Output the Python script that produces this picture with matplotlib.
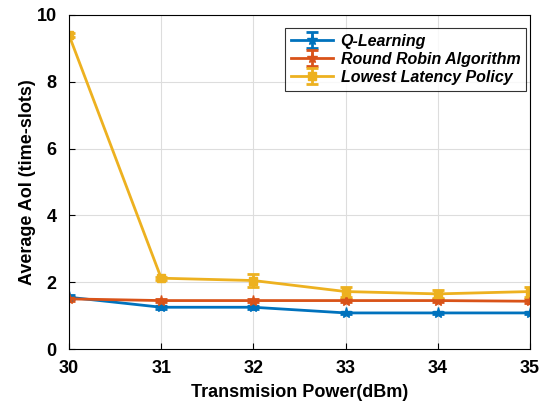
"""Average AoI vs transmission power."""

import matplotlib

matplotlib.use("Agg")
import matplotlib.pyplot as plt

plt.rcParams["font.family"] = ["Liberation Sans", "DejaVu Sans"]
plt.rcParams["font.weight"] = "bold"

power = [30, 31, 32, 33, 34, 35]  # dBm
q_learning = [1.55, 1.25, 1.25, 1.08, 1.08, 1.08]
q_err = [0.06, 0.04, 0.04, 0.04, 0.04, 0.04]
round_robin = [1.50, 1.45, 1.45, 1.45, 1.45, 1.43]
rr_err = [0.05, 0.04, 0.04, 0.05, 0.05, 0.06]
lowest_latency = [9.40, 2.12, 2.05, 1.72, 1.65, 1.72]
ll_err = [0.06, 0.05, 0.20, 0.15, 0.12, 0.15]

fig = plt.figure(figsize=(5.39, 4.03), dpi=100)
ax = fig.add_axes([69 / 539, 1 - 349 / 403, 461 / 539, 334 / 403])

ax.errorbar(power, q_learning, yerr=q_err, color="#0072BD", marker="*", ms=8,
            lw=2, capsize=4, capthick=2, elinewidth=2, label="Q-Learning")
ax.errorbar(power, round_robin, yerr=rr_err, color="#D95319", marker="*", ms=8,
            lw=2, capsize=4, capthick=2, elinewidth=2,
            label="Round Robin Algorithm")
ax.errorbar(power, lowest_latency, yerr=ll_err, color="#EDB120", marker="s",
            ms=6, lw=2, capsize=4, capthick=2, elinewidth=2,
            label="Lowest Latency Policy")

ax.set_xlim(30, 35)
ax.set_ylim(0, 10)
ax.set_xticks(power)
ax.set_yticks([0, 2, 4, 6, 8, 10])
ax.tick_params(labelsize=13, direction="in", length=4)
ax.tick_params(axis="x", pad=8)
ax.tick_params(axis="y", pad=9)
for lbl in ax.get_xticklabels() + ax.get_yticklabels():
    lbl.set_fontweight("bold")
ax.grid(True, color="#dddddd", lw=0.8)
ax.set_xlabel("Transmision Power(dBm)", fontsize=13, fontweight="bold",
              labelpad=5)
ax.set_ylabel("Average AoI (time-slots)", fontsize=13, fontweight="bold",
              labelpad=0)

leg = ax.legend(loc="upper right", fancybox=False, edgecolor="black",
                bbox_to_anchor=(0.991, 0.961), borderaxespad=0,
                handlelength=2.6, labelspacing=0.2, borderpad=0.35,
                handletextpad=0.5,
                prop={"style": "italic", "weight": "bold", "size": 11.5})
leg.get_frame().set_linewidth(0.8)

fig.savefig("out.png", dpi=100)
plt.close()
